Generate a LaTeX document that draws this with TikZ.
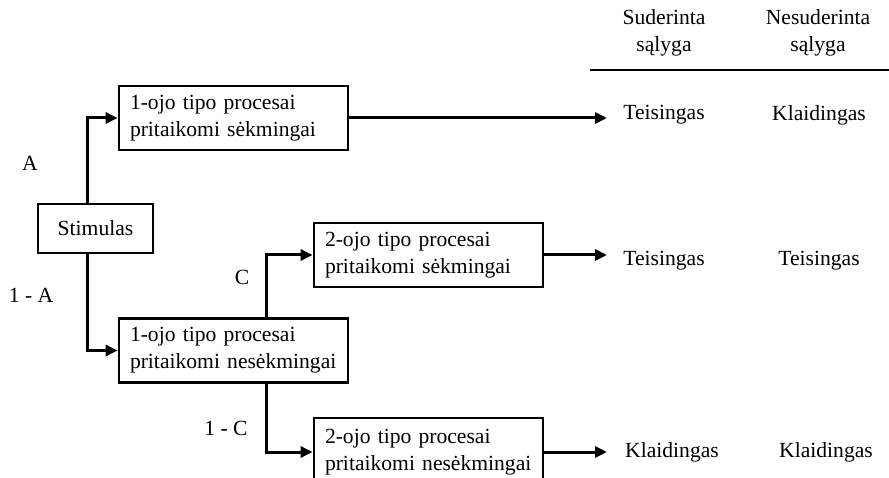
\documentclass[tikz,border=0pt]{standalone}
\usepackage{fontspec}
\setmainfont{Liberation Serif}
\usetikzlibrary{arrows.meta}
\hyphenpenalty=10000
\begin{document}
\begin{tikzpicture}[x=1pt,y=-1pt,
  txt/.style={font=\fontsize{21.6}{27}\selectfont, inner sep=0pt},
  box/.style={draw, line width=2.8pt, minimum width=229pt, minimum height=64pt,
    text width=207pt, inner xsep=11pt, inner ysep=0pt, align=left,
    font=\fontsize{21.6}{27}\selectfont},
  arr/.style={line width=3pt, -{Triangle[length=12pt,width=11pt]}}]
\useasboundingbox (0,0) rectangle (889,478);
% header
\node[txt, align=center] (h1) at (664,33) {Suderinta\\sąlyga};
\node[txt, align=center] (h2) at (818,33) {Nesuderinta\\sąlyga};
\coordinate (l1) at (590,70);
\coordinate (l2) at (889,70);
\draw[line width=1.8pt] (l1) -- (l2);
% boxes
\node[draw, line width=2.8pt, minimum width=115pt, minimum height=49pt,
  font=\fontsize{21.6}{27}\selectfont] (stim) at (95.5,228.5) {Stimulas};
\node[box] (b1) at (233.5,118) {1-ojo tipo procesai\\pritaikomi sėkmingai};
\node[box] (b2) at (428.5,255) {2-ojo tipo procesai\\pritaikomi sėkmingai};
\node[box] (b3) at (233.5,350.5) {1-ojo tipo procesai\\pritaikomi nesėkmingai};
\node[box, minimum height=68pt] (b4) at (428.5,452) {2-ojo tipo procesai\\pritaikomi nesėkmingai};
% connectors
\draw[arr] ([xshift=-8.5pt]stim.north) |- (b1.west);
\draw[arr] ([xshift=-8.5pt]stim.south) |- (b3.west);
\draw[arr] ([xshift=32.5pt]b3.north) |- (b2.west);
\draw[arr] ([xshift=32.5pt]b3.south) |- (b4.west);
\coordinate (r1) at (607,118);
\coordinate (r2) at (607,255);
\coordinate (r3) at (607,452);
\draw[arr] (b1.east) -- (r1);
\draw[arr] (b2.east) -- (r2);
\draw[arr] (b4.east) -- (r3);
% branch labels
\node[txt] (la) at (30,163) {A};
\node[txt] (l1a) at (31,295) {1 - A};
\node[txt] (lc) at (242,277) {C};
\node[txt] (l1c) at (226,428) {1 - C};
% outcomes
\node[txt] (o11) at (664,115) {Teisingas};
\node[txt] (o12) at (819,115) {Klaidingas};
\node[txt] (o21) at (664,261) {Teisingas};
\node[txt] (o22) at (819,261) {Teisingas};
\node[txt] (o31) at (672,452) {Klaidingas};
\node[txt] (o32) at (826,452) {Klaidingas};
\end{tikzpicture}
\end{document}
